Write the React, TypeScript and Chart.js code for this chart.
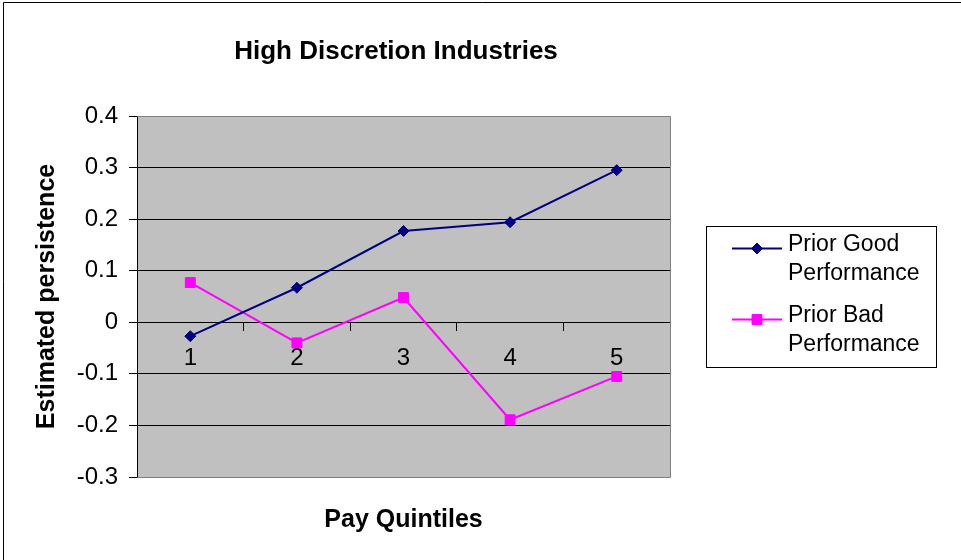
import React, { useEffect, useRef } from 'react';
import { Chart, registerables } from 'chart.js';

Chart.register(...registerables);

const chartTitle = 'High Discretion Industries';
const xAxisTitle = 'Pay Quintiles';
const yAxisTitle = 'Estimated persistence';
const quintiles = ['1', '2', '3', '4', '5'];
const priorGood = [-0.027, 0.067, 0.177, 0.194, 0.295];
const priorBad = [0.077, -0.04, 0.048, -0.189, -0.105];
const seriesNames = ['Prior Good Performance', 'Prior Bad Performance'];
const seriesColors = ['#000080', '#FF00FF'];
const seriesMarkers = ['rectRot', 'rect'];
const yMin = -0.3;
const yMax = 0.4;
const yStep = 0.1;

const FONT = '"Liberation Sans", Arial, Helvetica, sans-serif';

function wrapWords(ctx: CanvasRenderingContext2D, text: string, maxW: number): string[] {
  const words = text.split(' ');
  const lines: string[] = [];
  let cur = '';
  for (const w of words) {
    const test = cur ? cur + ' ' + w : w;
    if (cur && ctx.measureText(test).width > maxW) {
      lines.push(cur);
      cur = w;
    } else {
      cur = test;
    }
  }
  if (cur) lines.push(cur);
  return lines;
}

function drawMarker(ctx: CanvasRenderingContext2D, style: string, x: number, y: number, color: string) {
  ctx.fillStyle = color;
  ctx.strokeStyle = color;
  ctx.lineWidth = 1;
  ctx.beginPath();
  if (style === 'rectRot') {
    const r = 5.5;
    ctx.moveTo(x, y - r);
    ctx.lineTo(x + r, y);
    ctx.lineTo(x, y + r);
    ctx.lineTo(x - r, y);
    ctx.closePath();
  } else {
    const h = 4.95;
    ctx.rect(x - h, y - h, 2 * h, 2 * h);
  }
  ctx.fill();
  ctx.stroke();
}

const framePlugin = {
  id: 'excelFrame',
  beforeDraw(chart: any) {
    const { ctx, chartArea: a } = chart;
    ctx.save();
    ctx.fillStyle = '#ffffff';
    ctx.fillRect(0, 0, chart.width, chart.height);
    ctx.strokeStyle = '#000000';
    ctx.lineWidth = 1;
    ctx.beginPath();
    ctx.moveTo(3.5, chart.height);
    ctx.lineTo(3.5, 2.5);
    ctx.lineTo(chart.width, 2.5);
    ctx.stroke();
    ctx.fillStyle = '#c0c0c0';
    ctx.fillRect(a.left, a.top, a.right - a.left, a.bottom - a.top);
    ctx.fillStyle = '#000000';
    ctx.font = `bold 26px ${FONT}`;
    ctx.textAlign = 'center';
    ctx.textBaseline = 'middle';
    ctx.fillText(chartTitle, 396, 52);
    ctx.restore();
  },
  beforeDatasetsDraw(chart: any) {
    const { ctx, chartArea: a } = chart;
    const al = (p: number) => Math.round(p - 0.5) + 0.5;
    ctx.save();
    ctx.strokeStyle = '#808080';
    ctx.lineWidth = 1;
    ctx.beginPath();
    ctx.moveTo(al(a.left), al(a.top));
    ctx.lineTo(al(a.right), al(a.top));
    ctx.lineTo(al(a.right), al(a.bottom));
    ctx.lineTo(al(a.left), al(a.bottom));
    ctx.stroke();
    ctx.restore();
  },
  afterDraw(chart: any) {
    const { ctx } = chart;
    const bx = 706.5, by = 226.5, bw = 230, bh = 141;
    ctx.save();
    ctx.fillStyle = '#ffffff';
    ctx.fillRect(bx, by, bw, bh);
    ctx.strokeStyle = '#000000';
    ctx.lineWidth = 1;
    ctx.strokeRect(bx, by, bw, bh);
    ctx.font = `23px ${FONT}`;
    ctx.textAlign = 'left';
    ctx.textBaseline = 'middle';
    chart.data.datasets.forEach((ds: any, i: number) => {
      const y0 = 245 + i * 71;
      const lines = wrapWords(ctx, ds.label, 140);
      ctx.fillStyle = '#000000';
      lines.forEach((ln: string, j: number) => ctx.fillText(ln, 788, y0 + j * 28.3));
      const my = Math.round(y0 + 3) + 0.5;
      ctx.strokeStyle = ds.borderColor;
      ctx.lineWidth = 2;
      ctx.beginPath();
      ctx.moveTo(732, my);
      ctx.lineTo(782, my);
      ctx.stroke();
      drawMarker(ctx, ds.pointStyle, 757, my, ds.borderColor);
    });
    ctx.restore();
  },
};

export default function App() {
  const ref = useRef<HTMLCanvasElement | null>(null);

  useEffect(() => {
    const canvas = ref.current;
    if (!canvas) return;
    const chart = new Chart(canvas, {
      type: 'line',
      data: {
        labels: quintiles,
        datasets: [
          {
            label: seriesNames[0],
            data: priorGood,
            borderColor: seriesColors[0],
            backgroundColor: seriesColors[0],
            borderWidth: 2,
            pointStyle: seriesMarkers[0] as any,
            pointRadius: 5.5,
            pointBorderWidth: 1,
            pointBackgroundColor: seriesColors[0],
            pointBorderColor: seriesColors[0],
            tension: 0,
            fill: false,
          },
          {
            label: seriesNames[1],
            data: priorBad,
            borderColor: seriesColors[1],
            backgroundColor: seriesColors[1],
            borderWidth: 2,
            pointStyle: seriesMarkers[1] as any,
            pointRadius: 7,
            pointBorderWidth: 1,
            pointBackgroundColor: seriesColors[1],
            pointBorderColor: seriesColors[1],
            tension: 0,
            fill: false,
          },
        ],
      },
      options: {
        responsive: false,
        animation: false,
        devicePixelRatio: 1,
        events: [],
        layout: { padding: { top: 116, right: 291, bottom: 0, left: 0 } },
        plugins: {
          legend: { display: false },
          title: { display: false },
          tooltip: { enabled: false },
        },
        scales: {
          x: {
            type: 'category',
            position: { y: 0 } as any,
            offset: true,
            grid: {
              display: true,
              drawOnChartArea: false,
              drawTicks: true,
              tickLength: 8,
              tickColor: '#000000',
              offset: true,
            },
            border: { display: true, color: '#000000', width: 1 },
            ticks: {
              color: '#000000',
              font: { family: FONT, size: 24 },
              padding: 14,
              maxRotation: 0,
              autoSkip: false,
            },
            afterFit: (s: any) => {
              s.height = 0;
            },
          },
          x2: {
            type: 'category',
            axis: 'x',
            position: 'bottom',
            offset: true,
            grid: { display: false },
            border: { display: false },
            ticks: { display: false },
            title: {
              display: true,
              text: xAxisTitle,
              color: '#000000',
              font: { family: FONT, size: 25, weight: 'bold' },
              padding: { top: 0, bottom: 25 },
            },
            afterFit: (s: any) => {
              s.height = 83;
            },
          },
          y: {
            type: 'linear',
            position: 'left',
            min: yMin,
            max: yMax,
            ticks: {
              stepSize: yStep,
              color: '#000000',
              font: { family: FONT, size: 24 },
              padding: 11,
              callback: (v: any) => String(Math.round(Number(v) * 10) / 10),
            },
            grid: {
              color: '#000000',
              lineWidth: 1,
              drawTicks: true,
              tickLength: 8,
              tickColor: '#000000',
            },
            border: { display: true, color: '#000000', width: 1 },
            title: {
              display: true,
              text: yAxisTitle,
              color: '#000000',
              font: { family: FONT, size: 25, weight: 'bold' },
              padding: { top: 32, bottom: 0 },
            },
            afterFit: (s: any) => {
              s.width = 137;
            },
          },
        } as any,
      },
      plugins: [framePlugin],
    });
    return () => chart.destroy();
  }, []);

  return (
    <div style={{ position: 'absolute', left: 0, top: 0, width: 961, height: 560 }}>
      <canvas ref={ref} width={961} height={560} style={{ width: 961, height: 560, display: 'block' }} />
    </div>
  );
}
